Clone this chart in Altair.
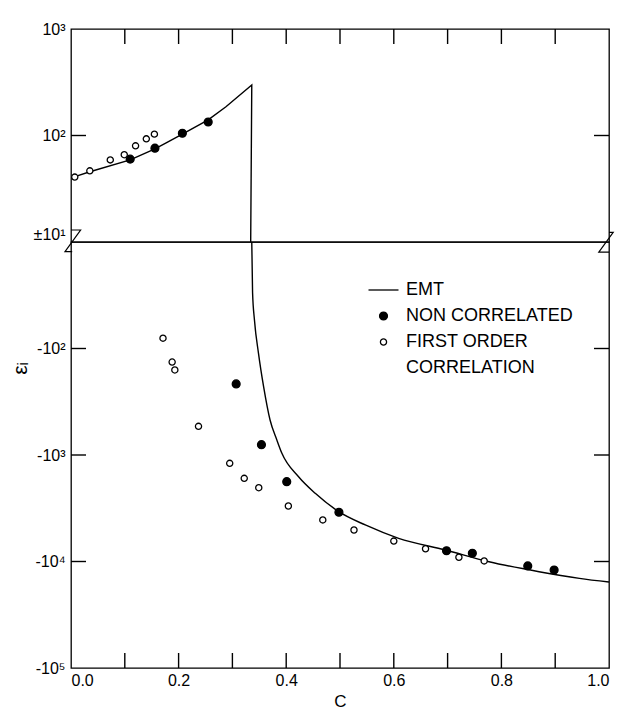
import altair as alt
import pandas as pd

# ---------------- data ----------------
# EMT curve (solid line), in drawing order
EMT_C = [0.0, 0.035, 0.11, 0.156, 0.176, 0.207, 0.255, 0.288, 0.336, 0.334,
         0.336, 0.3375, 0.341, 0.3485, 0.358, 0.370, 0.3826, 0.392, 0.423, 0.454, 0.4976,
         0.547, 0.609, 0.696, 0.777, 0.870, 0.945, 1.0]
EMT_EPS = [40, 45.7, 59, 75, 85, 103, 140, 186, 298, 10,
           -10, -30, -54, -111, -228, -469, -722, -964, -1600, -2291, -3404,
           -4540, -6055, -7798, -10045, -12470, -14390, -15600]

# non correlated (filled circles)
NC_C = [0.11, 0.156, 0.207, 0.255,
        0.307, 0.354, 0.401, 0.498, 0.698, 0.746, 0.849, 0.898]
NC_EPS = [60, 76, 105, 134,
          -215, -800, -1780, -3450, -7925, -8370, -11010, -12020]

# first order correlation (open circles)
FO_C = [0.007, 0.035, 0.073, 0.099, 0.12, 0.14, 0.155,
        0.171, 0.188, 0.193, 0.237, 0.295, 0.322, 0.349, 0.404, 0.468,
        0.526, 0.600, 0.659, 0.721, 0.768]
FO_EPS = [40.7, 46.6, 59, 66, 80, 93, 103,
          -80, -134, -159, -538, -1197, -1656, -2028, -3013, -4070,
          -5060, -6430, -7590, -9120, -9880]

SERIES = ["EMT", "NON CORRELATED", "FIRST ORDER CORRELATION"]
LEGEND_DOMAIN = SERIES + ["(second line)"]

X_LABEL_VALUES = [0.0, 0.2, 0.4, 0.6, 0.8, 1.0]
X_TICKS_INNER = [0.1, 0.2, 0.3, 0.4, 0.5, 0.6, 0.7, 0.8, 0.9]
TOP_Y_TICKS = [10, 100, 1000]
TOP_Y_LABELS = ["±10¹", "10²", "10³"]
BOT_Y_TICKS = [-100, -1000, -10000, -100000]
BOT_Y_LABELS = ["-10²", "-10³", "-10⁴", "-10⁵"]
TOP_INNER_Y_TICKS = [100]
BOT_INNER_Y_TICKS = [-100, -1000, -10000]

FONT = "Liberation Sans"
W, H_TOP, H_BOT = 538, 213, 426
TICK = 15

emt = pd.DataFrame({"c": EMT_C, "eps": EMT_EPS, "idx": range(len(EMT_C)), "series": "EMT"})
pts = pd.concat([
    pd.DataFrame({"c": NC_C, "eps": NC_EPS, "series": SERIES[1]}),
    pd.DataFrame({"c": FO_C, "eps": FO_EPS, "series": SERIES[2]}),
], ignore_index=True)
xt = pd.DataFrame({"c": X_TICKS_INNER})
yt_top = pd.DataFrame({"eps": TOP_INNER_Y_TICKS})
yt_bot = pd.DataFrame({"eps": BOT_INNER_Y_TICKS})


def label_map(vals, labels):
    return "{" + ",".join(f"'{v}':'{l}'" for v, l in zip(vals, labels)) + "}[datum.value]"


legend = alt.Legend(
    title=None, orient="none", legendX=303.5, legendY=252, padding=0,
    labelFont=FONT, labelFontSize=18, labelColor="black", labelOffset=13.5, labelLimit=400,
    rowPadding=8, symbolStrokeWidth=1.3,
    labelExpr=("datum.value == 'FIRST ORDER CORRELATION' ? 'FIRST ORDER' : "
               "datum.value == '(second line)' ? 'CORRELATION' : datum.label"),
)
fill_enc = alt.Fill("series:N", scale=alt.Scale(domain=LEGEND_DOMAIN,
                    range=["black", "black", "white", "transparent"]), legend=legend)
stroke_enc = alt.Stroke("series:N", scale=alt.Scale(domain=LEGEND_DOMAIN,
                        range=["black", "black", "black", "transparent"]), legend=legend)
shape_enc = alt.Shape("series:N", scale=alt.Scale(domain=LEGEND_DOMAIN,
                      range=["M-3,0H3", "circle", "circle", "circle"]), legend=legend)
size_enc = alt.Size("series:N", scale=alt.Scale(type="ordinal", domain=LEGEND_DOMAIN,
                    range=[100, 62, 38, 0]), legend=legend)

x_scale = alt.Scale(domain=[0, 1], nice=False)
top_y = alt.Scale(type="log", domain=[10, 1000], nice=False)
bot_y = alt.Scale(type="log", domain=[-100000, -10], nice=False)

plain = dict(domain=False, grid=False, ticks=False)
TICK_W = 1.4

# ---------------- top panel ----------------
top_left = alt.Axis(orient="left", values=TOP_Y_TICKS, labelExpr=label_map(TOP_Y_TICKS, TOP_Y_LABELS),
                    title=None, labelFont=FONT, labelFontSize=16, labelColor="black", labelPadding=6,
                    labelOffset={"condition": {"test": "datum.value == 10", "value": -8}, "value": 0},
                    **plain)

top_line = alt.Chart(emt).transform_filter("datum.eps > 0").mark_line(
    color="black", strokeWidth=1.4, clip=True).encode(
    x=alt.X("c:Q", scale=x_scale, axis=None),
    y=alt.Y("eps:Q", scale=top_y, axis=top_left),
    order="idx:Q")
top_pts = alt.Chart(pts).transform_filter("datum.eps > 0").mark_point(
    filled=True, strokeWidth=1.3, opacity=1).encode(
    x=alt.X("c:Q", scale=x_scale),
    y=alt.Y("eps:Q", scale=top_y),
    fill=fill_enc, stroke=stroke_enc, shape=shape_enc, size=size_enc)
# inward ticks
top_xt = alt.Chart(xt).mark_rule(color="black", strokeWidth=TICK_W).encode(
    x=alt.X("c:Q", scale=x_scale), y=alt.value(0), y2=alt.value(TICK))
top_yl = alt.Chart(yt_top).mark_rule(color="black", strokeWidth=TICK_W).encode(
    y=alt.Y("eps:Q", scale=top_y), x=alt.value(0), x2=alt.value(TICK))
top_yr = alt.Chart(yt_top).mark_rule(color="black", strokeWidth=TICK_W).encode(
    y=alt.Y("eps:Q", scale=top_y), x=alt.value(W - TICK), x2=alt.value(W))

view_bg = alt.ViewBackground(stroke="black", strokeWidth=1.3)
top = alt.layer(top_line, top_pts, top_xt, top_yl, top_yr).properties(
    width=W, height=H_TOP, view=view_bg)

# ---------------- bottom panel ----------------
bot_x_axis = alt.Axis(orient="bottom", values=X_LABEL_VALUES, format=".1f",
                      labelFont=FONT, labelFontSize=16, labelColor="black", labelPadding=4,
                      title="C", titleFont=FONT, titleFontSize=17, titleFontWeight="normal",
                      titleColor="black", titlePadding=5, **plain)
bot_left = alt.Axis(orient="left", values=BOT_Y_TICKS, labelExpr=label_map(BOT_Y_TICKS, BOT_Y_LABELS),
                    labelFont=FONT, labelFontSize=16, labelColor="black", labelPadding=6,
                    title="εᵢ", titleFont=FONT, titleFontSize=21, titleFontWeight="normal",
                    titleColor="black", titlePadding=5, titleY=126, **plain)

bot_line = alt.Chart(emt).transform_filter("datum.eps < 0").mark_line(
    color="black", strokeWidth=1.4, clip=True, interpolate="monotone").encode(
    x=alt.X("c:Q", scale=x_scale, axis=bot_x_axis),
    y=alt.Y("eps:Q", scale=bot_y, axis=bot_left),
    order="idx:Q")
bot_pts = alt.Chart(pts).transform_filter("datum.eps < 0").mark_point(
    filled=True, strokeWidth=1.3, opacity=1).encode(
    x=alt.X("c:Q", scale=x_scale),
    y=alt.Y("eps:Q", scale=bot_y),
    fill=fill_enc, stroke=stroke_enc, shape=shape_enc, size=size_enc)
bot_xt = alt.Chart(xt).mark_rule(color="black", strokeWidth=TICK_W).encode(
    x=alt.X("c:Q", scale=x_scale), y=alt.value(H_BOT - TICK), y2=alt.value(H_BOT))
bot_yl = alt.Chart(yt_bot).mark_rule(color="black", strokeWidth=TICK_W).encode(
    y=alt.Y("eps:Q", scale=bot_y), x=alt.value(0), x2=alt.value(TICK))
bot_yr = alt.Chart(yt_bot).mark_rule(color="black", strokeWidth=TICK_W).encode(
    y=alt.Y("eps:Q", scale=bot_y), x=alt.value(W - TICK), x2=alt.value(W))
# axis-break zigzags at both ends of the break line
brk_left = alt.Chart(pd.DataFrame({"c": [0.0]})).mark_point(
    shape="M0,-1L0.8,-1L-0.5,0.8L0.1,0.8", size=576, filled=False,
    stroke="black", strokeWidth=1.2, opacity=1).encode(
    x=alt.X("c:Q", scale=x_scale), y=alt.datum(-10, scale=bot_y))
brk_right = alt.Chart(pd.DataFrame({"c": [1.0]})).mark_point(
    shape="M0,-0.8L0.35,-0.8L-0.85,0.85L0,0.85", size=576, filled=False,
    stroke="black", strokeWidth=1.2, opacity=1).encode(
    x=alt.X("c:Q", scale=x_scale), y=alt.datum(-10, scale=bot_y))

bottom = alt.layer(bot_line, bot_pts, bot_xt, bot_yl, bot_yr, brk_left, brk_right).properties(
    width=W, height=H_BOT, view=view_bg)

chart = alt.vconcat(top, bottom, spacing=0, bounds="flush").configure(
    font=FONT, padding={"left": 0, "top": 12, "right": 0, "bottom": 0})

chart.save("out.html", embed_options={"renderer": "svg", "actions": False})
